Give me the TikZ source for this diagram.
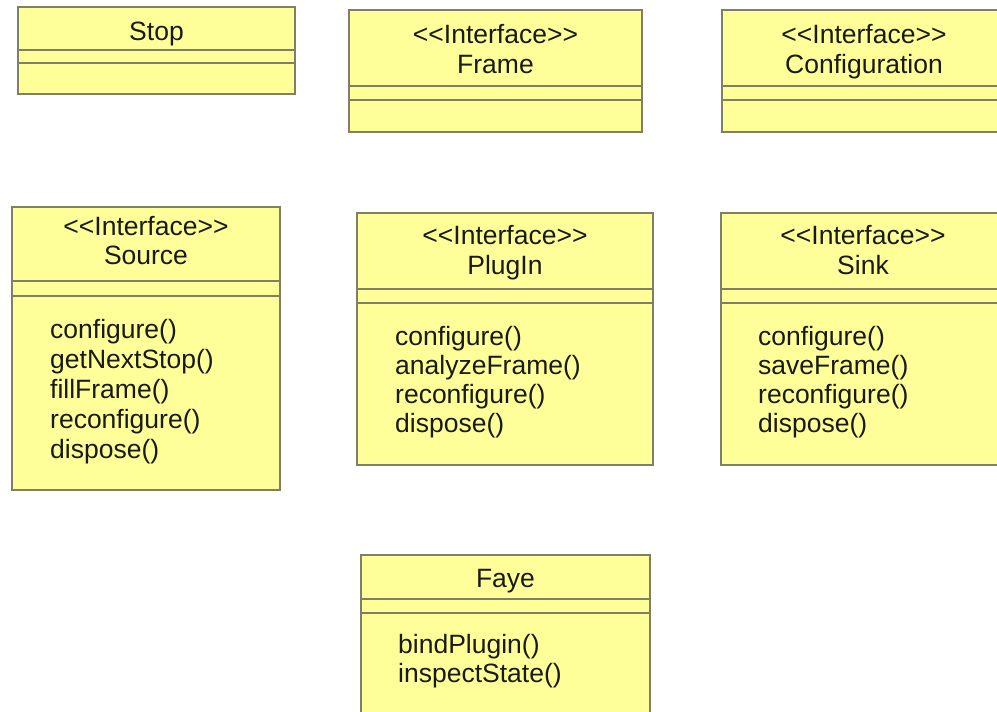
\documentclass[tikz,border=0pt]{standalone}
\usepackage{fontspec}
\setmainfont{Liberation Sans}[Ligatures=TeXOff]
\usetikzlibrary{positioning}
\definecolor{ClassFill}{HTML}{FFFF99}
\definecolor{ClassEdge}{HTML}{7F7F66}
\definecolor{ClassText}{HTML}{1A1A10}

\begin{document}
\begin{tikzpicture}[x=1pt,y=-1pt,
    classbox/.style={draw=ClassEdge,fill=ClassFill,line width=1.4pt},
    compline/.style={draw=ClassEdge,line width=1.2pt},
    classtext/.style={inner sep=0pt,text=ClassText,
      font=\fontsize{26.5}{30}\selectfont},
    title/.style={classtext,anchor=base},
    member/.style={classtext,anchor=base west}
  ]
    \useasboundingbox (0,0) rectangle (997,712);
    % top row
    \path[classbox] (18,7) rectangle (295,94);
    \draw[compline] (18,50) -- (295,50) (18,63) -- (295,63);
    \node[title] (stop) at (156.5,40) {Stop};

    \path[classbox] (349,10) rectangle (642,132);
    \draw[compline] (349,86) -- (642,86) (349,100) -- (642,100);
    \node[title] (frame-st) at (495.5,43) {<<Interface>>};
    \node[title] (frame) at (495.5,73) {Frame};

    \path[classbox] (722,10) rectangle (1002,132);
    \draw[compline] (722,86) -- (1002,86) (722,100) -- (1002,100);
    \node[title] (config-st) at (864,43) {<<Interface>>};
    \node[title] (config) at (864,73) {Configuration};

    % middle row
    \path[classbox] (12,207) rectangle (280,490);
    \draw[compline] (12,281) -- (280,281) (12,296) -- (280,296);
    \node[title] (source-st) at (146,235) {<<Interface>>};
    \node[title] (source) at (146,264) {Source};
    \node[member] (source-1) at (50,338) {configure()};
    \node[member] (source-2) at (50,368) {getNextStop()};
    \node[member] (source-3) at (50,398) {fillFrame()};
    \node[member] (source-4) at (50,428) {reconfigure()};
    \node[member] (source-5) at (50,458) {dispose()};

    \path[classbox] (357,213) rectangle (653,465);
    \draw[compline] (357,289) -- (653,289) (357,303) -- (653,303);
    \node[title] (plugin-st) at (505,244) {<<Interface>>};
    \node[title] (plugin) at (505,274) {PlugIn};
    \node[member] (plugin-1) at (395,345) {configure()};
    \node[member] (plugin-2) at (395,374) {analyzeFrame()};
    \node[member] (plugin-3) at (395,403) {reconfigure()};
    \node[member] (plugin-4) at (395,432) {dispose()};

    \path[classbox] (721,213) rectangle (1002,465);
    \draw[compline] (721,289) -- (1002,289) (721,303) -- (1002,303);
    \node[title] (sink-st) at (863,244) {<<Interface>>};
    \node[title] (sink) at (863,274) {Sink};
    \node[member] (sink-1) at (758,345) {configure()};
    \node[member] (sink-2) at (758,374) {saveFrame()};
    \node[member] (sink-3) at (758,403) {reconfigure()};
    \node[member] (sink-4) at (758,432) {dispose()};

    % bottom row
    \path[classbox] (361,555) rectangle (650,720);
    \draw[compline] (361,599) -- (650,599) (361,613) -- (650,613);
    \node[title] (faye) at (505.5,587) {Faye};
    \node[member] (faye-1) at (398,653) {bindPlugin()};
    \node[member] (faye-2) at (398,682) {inspectState()};
  \end{tikzpicture}
\end{document}
